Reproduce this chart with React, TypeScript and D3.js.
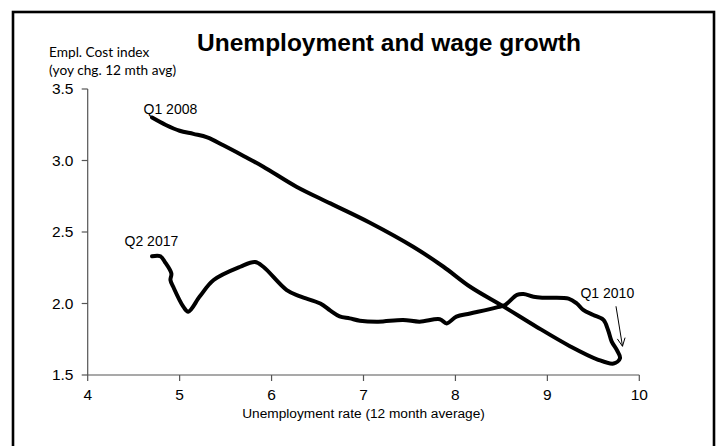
import React from "react";
import * as d3 from "d3";

const unemployment = [
  4.70, 4.85, 5.00, 5.15, 5.30, 5.475, 5.70, 5.91, 6.27, 6.64, 7.07, 7.54, 7.87, 8.16, 8.52, 8.88, 9.25, 9.54, 9.72, 9.79,
  9.755, 9.70, 9.66, 9.61, 9.50, 9.39, 9.32, 9.23, 8.96, 8.85, 8.74, 8.67, 8.54, 8.45, 8.16, 8.01, 7.905, 7.83, 7.61, 7.43,
  7.16, 6.96, 6.85, 6.74, 6.64, 6.53, 6.31, 6.165, 5.91, 5.82, 5.66, 5.37, 5.22, 5.094, 5.04, 4.93, 4.90, 4.91, 4.84, 4.79, 4.70,
];
const eci = [
  3.30, 3.248, 3.208, 3.186, 3.162, 3.106, 3.03, 2.957, 2.817, 2.70, 2.565, 2.397, 2.257, 2.117, 1.98, 1.838, 1.70, 1.61, 1.58, 1.617,
  1.675, 1.733, 1.815, 1.885, 1.92, 1.955, 2.0, 2.034, 2.04, 2.047, 2.066, 2.06, 1.99, 1.973, 1.93, 1.908, 1.861, 1.89, 1.873, 1.885,
  1.873, 1.88, 1.896, 1.91, 1.95, 2.0, 2.05, 2.094, 2.257, 2.29, 2.257, 2.164, 2.05, 1.943, 1.978, 2.117, 2.164, 2.21, 2.29, 2.33, 2.33,
];
const xTicks = [4, 5, 6, 7, 8, 9, 10];
const yTicks = [1.5, 2.0, 2.5, 3.0, 3.5];
const annotations = [
  { label: "Q1 2008", x: 4.70, y: 3.30 },
  { label: "Q2 2017", x: 4.70, y: 2.33 },
  { label: "Q1 2010", x: 9.79, y: 1.617 },
];

const W = 719;
const H = 446;
const arial = "'Liberation Sans', Arial, sans-serif";

export default function App() {
  const x = d3.scaleLinear().domain([4, 10]).range([87.7, 639.3]);
  const y = d3.scaleLinear().domain([1.5, 3.5]).range([375, 89]);
  const pts: [number, number][] = unemployment.map((u, i) => [u, eci[i]]);
  const line = d3
    .line<[number, number]>()
    .x((d) => x(d[0]))
    .y((d) => y(d[1]))
    .curve(d3.curveCatmullRom.alpha(0.5));

  const a2008 = annotations[0];
  const a2017 = annotations[1];
  const a2010 = annotations[2];

  const ax1 = x(a2010.x) - 4;
  const ay1 = y(a2010.y) - 52;
  const ax2 = x(a2010.x) + 2.5;
  const ay2 = y(a2010.y) - 12;
  const ang = Math.atan2(ay2 - ay1, ax2 - ax1);
  const hl = 9;
  const hw = 0.45;

  return (
    <svg width={W} height={H} style={{ position: "absolute", left: 0, top: 0 }}>
      <rect x={0} y={0} width={W} height={H} fill="#fff" />
      <rect x={13} y={12} width={701} height={460} fill="none" stroke="#000" strokeWidth={2.6} />
      <text x={389} y={51} textAnchor="middle" fontFamily={arial} fontWeight="bold" fontSize={24.5} fill="#000">
        Unemployment and wage growth
      </text>
      <text fontFamily="Lato, 'Open Sans', sans-serif" fontSize={13.7} fill="#000">
        <tspan x={49} y={57}>Empl. Cost index</tspan>
        <tspan x={49} y={75}>(yoy chg. 12 mth avg)</tspan>
      </text>
      <line x1={x(4)} x2={x(4)} y1={y(3.5)} y2={y(1.5)} stroke="#555" strokeWidth={1.2} />
      {yTicks.map((t) => (
        <g key={t}>
          <line x1={x(4) - 6} x2={x(4)} y1={y(t)} y2={y(t)} stroke="#555" strokeWidth={1.2} />
          <text x={73.5} y={y(t)} dy="0.35em" textAnchor="end" fontFamily={arial} fontSize={15.5} fill="#000">
            {t.toFixed(1)}
          </text>
        </g>
      ))}
      <line x1={x(4)} x2={x(10)} y1={y(1.5)} y2={y(1.5)} stroke="#555" strokeWidth={1.2} />
      {xTicks.map((t) => (
        <g key={t}>
          <line x1={x(t)} x2={x(t)} y1={y(1.5)} y2={y(1.5) + 6} stroke="#555" strokeWidth={1.2} />
          <text x={x(t)} y={400} textAnchor="middle" fontFamily={arial} fontSize={15.5} fill="#000">
            {t}
          </text>
        </g>
      ))}
      <text x={363.5} y={418} textAnchor="middle" fontFamily={arial} fontSize={13.7} fill="#000">
        Unemployment rate (12 month average)
      </text>
      <path d={line(pts) || ""} fill="none" stroke="#000" strokeWidth={4} strokeLinejoin="round" strokeLinecap="round" />
      <text x={x(a2008.x) - 8.5} y={y(a2008.y) - 3.5} fontFamily={arial} fontSize={14} fill="#000">
        {a2008.label}
      </text>
      <text x={x(a2017.x) - 27.5} y={y(a2017.y) - 10} fontFamily={arial} fontSize={14} fill="#000">
        {a2017.label}
      </text>
      <text x={x(a2010.x) - 39.5} y={y(a2010.y) - 60.5} fontFamily={arial} fontSize={14} fill="#000">
        {a2010.label}
      </text>
      <line x1={ax1} y1={ay1} x2={ax2} y2={ay2} stroke="#000" strokeWidth={1} />
      <polyline
        points={`${ax2 - hl * Math.cos(ang - hw)},${ay2 - hl * Math.sin(ang - hw)} ${ax2},${ay2} ${ax2 - hl * Math.cos(ang + hw)},${ay2 - hl * Math.sin(ang + hw)}`}
        fill="none"
        stroke="#000"
        strokeWidth={1}
      />
    </svg>
  );
}
